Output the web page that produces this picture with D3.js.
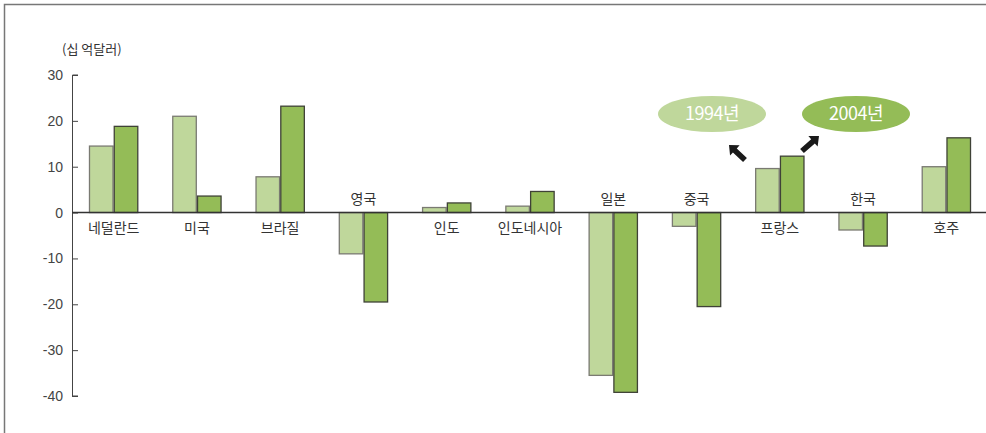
<!DOCTYPE html>
<html>
<head>
<meta charset="utf-8">
<title>Bar chart</title>
<script src="https://cdn.jsdelivr.net/npm/d3@7"></script>
<style>
  body { margin: 0; background: #fff; }
  text { font-family: "Noto Sans CJK KR", "Noto Sans", sans-serif; }
</style>
</head>
<body>
<div id="chart"></div>
<script>
  // data
  var categories = ["네덜란드", "미국", "브라질", "영국", "인도", "인도네시아", "일본", "중국", "프랑스", "한국", "호주"];
  var values1994 = [14.5, 21, 7.8, -9, 1.1, 1.4, -35.5, -3, 9.6, -3.8, 10];
  var values2004 = [18.8, 3.6, 23.2, -19.5, 2.1, 4.6, -39.2, -20.5, 12.3, -7.3, 16.3];
  var yTicks = [30, 20, 10, 0, -10, -20, -30, -40];
  var seriesNames = ["1994년", "2004년"];

  var W = 986, H = 433;
  var colors = { light: "#bfd79b", dark: "#94bc57" };
  var strokes = { light: "#7a7a72", dark: "#3f4237" };

  var svg = d3.select("#chart").append("svg")
    .attr("width", W)
    .attr("height", H);

  // outer frame (top + left)
  svg.append("path")
    .attr("d", "M4.5," + H + "V4.5H" + W)
    .attr("fill", "none")
    .attr("stroke", "#777")
    .attr("stroke-width", 1.5);

  var y = d3.scaleLinear().domain([-40, 30]).range([396, 75]);
  var x = d3.scaleBand().domain(categories).range([72, 988]).paddingInner(0.42).paddingOuter(0.21);
  var xs = d3.scaleBand().domain([0, 1]).range([0, x.bandwidth()]).paddingInner(0.05);

  // y axis
  var yAxis = d3.axisRight(y).tickValues(yTicks).tickSize(6).tickFormat(d3.format("d"));
  var ga = svg.append("g").attr("transform", "translate(72,0)").call(yAxis);
  ga.select(".domain").attr("stroke", "#444").attr("d", "M6," + y(30) + "H0.5V" + y(-40) + "H6");
  ga.selectAll(".tick line").attr("stroke", "#444");
  ga.selectAll(".tick text")
    .attr("x", -9)
    .attr("text-anchor", "end")
    .attr("fill", "#444")
    .style("font-size", "14px")
    .style("font-family", "'Liberation Sans', Arimo, sans-serif")
    .text(function (d) { return d; });

  svg.append("text")
    .attr("x", 62).attr("y", 54)
    .attr("fill", "#333")
    .style("font-size", "13px")
    .text("(십 억달러)");

  // bars
  var groups = svg.selectAll("g.cat").data(categories).enter().append("g")
    .attr("class", "cat")
    .attr("transform", function (d) { return "translate(" + x(d) + ",0)"; });

  groups.each(function (c, i) {
    var g = d3.select(this);
    [values1994[i], values2004[i]].forEach(function (v, k) {
      g.append("rect")
        .attr("x", xs(k))
        .attr("width", xs.bandwidth())
        .attr("y", y(Math.max(0, v)))
        .attr("height", Math.abs(y(v) - y(0)))
        .attr("fill", k === 0 ? colors.light : colors.dark)
        .attr("stroke", k === 0 ? strokes.light : strokes.dark)
        .attr("stroke-width", 1.3);
    });
    var pos = values1994[i] + values2004[i] >= 0;
    g.append("text")
      .attr("x", x.bandwidth() / 2)
      .attr("y", pos ? y(0) + 20 : y(0) - 9)
      .attr("text-anchor", "middle")
      .attr("fill", "#333")
      .style("font-size", "14px")
      .text(c);
  });

  // zero line
  svg.append("line")
    .attr("x1", 72).attr("x2", W)
    .attr("y1", y(0)).attr("y2", y(0))
    .attr("stroke", "#333")
    .attr("stroke-width", 1.5);

  // legend ellipses
  var legend = [
    { name: seriesNames[0], cx: 712, fill: colors.light },
    { name: seriesNames[1], cx: 856, fill: colors.dark }
  ];
  legend.forEach(function (l) {
    svg.append("ellipse")
      .attr("cx", l.cx).attr("cy", 114)
      .attr("rx", 54).attr("ry", 18)
      .attr("fill", l.fill);
    svg.append("text")
      .attr("x", l.cx).attr("y", 120)
      .attr("text-anchor", "middle")
      .attr("fill", "#fff")
      .style("font-size", "18px")
      .style("letter-spacing", "-0.5px")
      .text(l.name);
  });

  // arrows
  function arrow(x0, y0, x1, y1) {
    var a = Math.atan2(y1 - y0, x1 - x0) * 180 / Math.PI;
    var len = Math.hypot(x1 - x0, y1 - y0);
    svg.append("path")
      .attr("transform", "translate(" + x0 + "," + y0 + ") rotate(" + a + ")")
      .attr("d", "M0,-2.8H" + (len - 8) + "V-7L" + len + ",0L" + (len - 8) + ",7V2.8H0Z")
      .attr("fill", "#1a1a1a");
  }
  arrow(745, 160, 729, 145);
  arrow(802, 151, 819, 136);
</script>
</body>
</html>
